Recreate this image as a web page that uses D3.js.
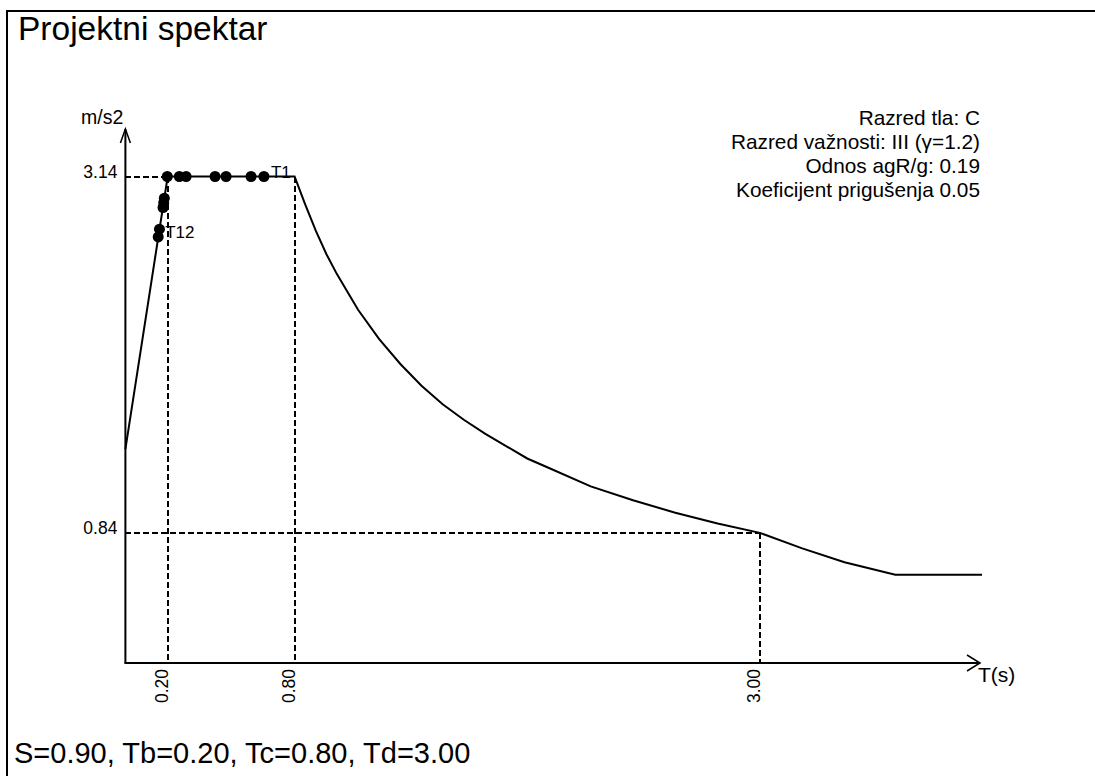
<!DOCTYPE html>
<html lang="hr">
<head>
    <meta charset="UTF-8">
    <title>Projektni spektar</title>
    <script src="https://d3js.org/d3.v7.min.js"></script>
    <style>
        * { margin: 0; padding: 0; box-sizing: border-box; }
        body { background: #fff; font-family: "Liberation Sans", Arial, sans-serif; }
        svg text { fill: #000; }
    </style>
</head>
<body>
<div id="chart"></div>
<script>
    // spektar (T u s, Sd u m/s2)
    const periods  = [0.0, 0.2, 0.8, 0.85, 0.9, 0.95, 1.0, 1.1, 1.2, 1.3, 1.4, 1.5, 1.6, 1.7, 1.8, 1.9, 2.0, 2.2, 2.4, 2.6, 2.8, 3.0, 3.2, 3.4, 3.64, 4.05];
    const spectrum = [1.38, 3.14, 3.14, 2.96, 2.79, 2.64, 2.51, 2.28, 2.09, 1.93, 1.79, 1.67, 1.57, 1.48, 1.40, 1.32, 1.26, 1.14, 1.05, 0.97, 0.90, 0.84, 0.74, 0.65, 0.57, 0.57];

    // tonovi konstrukcije T1..T12
    const modeNames = ["T1", "T2", "T3", "T4", "T5", "T6", "T7", "T8", "T9", "T10", "T11", "T12"];
    const modeT     = [0.655, 0.594, 0.476, 0.424, 0.287, 0.255, 0.198, 0.184, 0.181, 0.178, 0.161, 0.155];
    const modeSd    = [3.14, 3.14, 3.14, 3.14, 3.14, 3.14, 3.14, 3.00, 2.97, 2.94, 2.80, 2.75];
    const labelled  = ["T1", "T12"];

    const xTicks = [0.20, 0.80, 3.00];
    const yTicks = [0.84, 3.14];
    const info = [
        "Razred tla: C",
        "Razred važnosti: III (γ=1.2)",
        "Odnos agR/g: 0.19",
        "Koeficijent prigušenja 0.05"
    ];
    const title = "Projektni spektar";
    const footer = "S=0.90, Tb=0.20, Tc=0.80, Td=3.00";

    const W = 1095, H = 776;
    const svg = d3.select("#chart").append("svg")
        .attr("width", W)
        .attr("height", H);

    // okvir
    svg.append("path")
        .attr("d", `M7,${H + 5}V11H${W + 5}`)
        .attr("fill", "none")
        .attr("stroke", "#000")
        .attr("stroke-width", 2);

    svg.append("text")
        .attr("x", 18).attr("y", 40)
        .style("font-size", "33.5px")
        .text(title);

    svg.append("text")
        .attr("x", 14).attr("y", 763)
        .style("font-size", "29px")
        .text(footer);

    const x = d3.scaleLinear().domain([0, 4.05]).range([125.4, 982]);
    const y = d3.scaleLinear().domain([0, 3.14]).range([663, 176.5]);

    const x0 = x(0), y0 = y(0);

    // isprekidane linije
    const dash = svg.append("g")
        .attr("stroke", "#000")
        .attr("stroke-width", 2)
        .attr("stroke-dasharray", "6,3")
        .attr("shape-rendering", "crispEdges")
        .attr("fill", "none");
    const guides = [
        [[0, yTicks[1]], [xTicks[0], yTicks[1]]],
        [[xTicks[0], yTicks[1]], [xTicks[0], 0]],
        [[xTicks[1], yTicks[1]], [xTicks[1], 0]],
        [[0, yTicks[0]], [xTicks[2], yTicks[0]]],
        [[xTicks[2], yTicks[0]], [xTicks[2], 0]]
    ];
    guides.forEach(g => {
        dash.append("line")
            .attr("x1", x(g[0][0])).attr("y1", y(g[0][1]))
            .attr("x2", x(g[1][0])).attr("y2", y(g[1][1]));
    });

    // osi
    const axisG = svg.append("g").attr("stroke", "#000").attr("stroke-width", 2).attr("fill", "none");
    axisG.append("line").attr("x1", x0).attr("y1", y0).attr("x2", x0).attr("y2", 129);
    axisG.append("path").attr("d", `M${x0 - 5},143L${x0},129L${x0 + 5},143`).attr("stroke-width", 1.5);
    axisG.append("line").attr("x1", x0 - 1).attr("y1", y0).attr("x2", 980).attr("y2", y0);
    axisG.append("path").attr("d", `M967,${y0 - 8}L980,${y0}L967,${y0 + 8}`).attr("stroke-width", 1.5);

    const xAxis = svg.append("g")
        .attr("transform", `translate(0,${y0})`)
        .call(d3.axisBottom(x).tickValues(xTicks).tickSize(0).tickFormat(d3.format(".2f")));
    xAxis.select(".domain").remove();
    xAxis.selectAll("text")
        .attr("transform", "rotate(-90)")
        .attr("text-anchor", "end")
        .attr("x", -6)
        .attr("y", 0)
        .attr("dy", "0")
        .style("font-size", "17.5px")
        .style("font-family", "'Liberation Sans', Arial, sans-serif");

    const yAxis = svg.append("g")
        .attr("transform", `translate(${x0},0)`)
        .call(d3.axisLeft(y).tickValues(yTicks).tickSize(0).tickPadding(8).tickFormat(d3.format(".2f")));
    yAxis.select(".domain").remove();
    yAxis.selectAll("text")
        .attr("dy", "0.05em")
        .style("font-size", "17.5px")
        .style("font-family", "'Liberation Sans', Arial, sans-serif");

    svg.append("text")
        .attr("x", 81).attr("y", 124)
        .style("font-size", "19.5px")
        .text("m/s2");

    svg.append("text")
        .attr("x", 978).attr("y", 682)
        .style("font-size", "21px")
        .text("T(s)");

    // krivulja spektra
    const line = d3.line()
        .x((d, i) => x(periods[i]))
        .y(d => y(d));
    svg.append("path")
        .datum(spectrum)
        .attr("d", line)
        .attr("fill", "none")
        .attr("stroke", "#000")
        .attr("stroke-width", 2);

    // tonovi
    svg.append("g").selectAll("circle")
        .data(modeT)
        .join("circle")
        .attr("cx", d => x(d))
        .attr("cy", (d, i) => y(modeSd[i]))
        .attr("r", 5.5)
        .attr("fill", "#000");

    svg.append("g").selectAll("text")
        .data(modeNames.filter(n => labelled.includes(n)))
        .join("text")
        .attr("x", n => x(modeT[modeNames.indexOf(n)]) + 7)
        .attr("y", n => y(modeSd[modeNames.indexOf(n)]) + 1)
        .style("font-size", "17px")
        .text(n => n);

    // podaci o spektru
    svg.append("g").selectAll("text")
        .data(info)
        .join("text")
        .attr("x", 980)
        .attr("y", (d, i) => 125 + i * 24)
        .attr("text-anchor", "end")
        .style("font-size", "20.8px")
        .text(d => d);
</script>
</body>
</html>
